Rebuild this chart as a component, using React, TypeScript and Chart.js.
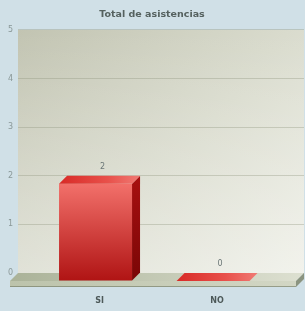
import { useEffect, useRef } from "react";
import { Chart, registerables } from "chart.js";

Chart.register(...registerables);

const TITLE = "Total de asistencias";
const categories = ["SI", "NO"];
const asistencias = [2, 0];
const yTickValues = [0, 1, 2, 3, 4, 5];

const DEPTH = 8;
const SLAB = 6;

const threeD = {
  id: "threeD",
  beforeDraw(chart: any) {
    const { ctx, chartArea: a, width, height } = chart;
    ctx.save();
    ctx.fillStyle = "#d0e0e7";
    ctx.fillRect(0, 0, width, height);
    const g = ctx.createLinearGradient(a.left, a.top, a.right, a.bottom);
    g.addColorStop(0, "#c2c4b2");
    g.addColorStop(0.55, "#d9dbcd");
    g.addColorStop(1, "#ecede4");
    ctx.fillStyle = g;
    ctx.fillRect(a.left, a.top, a.right - a.left, a.bottom - a.top);
    const v = ctx.createLinearGradient(0, a.top, 0, a.bottom);
    v.addColorStop(0, "rgba(255,255,255,0)");
    v.addColorStop(1, "rgba(255,255,255,0.3)");
    ctx.fillStyle = v;
    ctx.fillRect(a.left, a.top, a.right - a.left, a.bottom - a.top);
    ctx.restore();
  },
  beforeDatasetsDraw(chart: any) {
    const { ctx, chartArea: a } = chart;
    const y0 = chart.scales.y.getPixelForValue(0);
    const L = a.left, R = a.right, d = DEPTH;
    ctx.save();
    const gt = ctx.createLinearGradient(L - d, 0, R, 0);
    gt.addColorStop(0, "#aab298");
    gt.addColorStop(1, "#dde0d1");
    ctx.fillStyle = gt;
    ctx.beginPath();
    ctx.moveTo(L, y0);
    ctx.lineTo(R, y0);
    ctx.lineTo(R - d, y0 + d);
    ctx.lineTo(L - d, y0 + d);
    ctx.closePath();
    ctx.fill();
    const gf = ctx.createLinearGradient(L - d, 0, R, 0);
    gf.addColorStop(0, "#bcc3ab");
    gf.addColorStop(1, "#d3d7c5");
    ctx.fillStyle = gf;
    ctx.fillRect(L - d, y0 + d, R - L, SLAB);
    ctx.fillStyle = "rgba(110,118,96,0.6)";
    ctx.fillRect(L - d, y0 + d + SLAB - 1, R - L, 1);
    ctx.fillStyle = "#8b9480";
    ctx.beginPath();
    ctx.moveTo(R - d, y0 + d);
    ctx.lineTo(R, y0);
    ctx.lineTo(R, y0 + SLAB);
    ctx.lineTo(R - d, y0 + d + SLAB);
    ctx.closePath();
    ctx.fill();
    ctx.restore();
  },
  afterDatasetsDraw(chart: any) {
    const { ctx } = chart;
    const meta = chart.getDatasetMeta(0);
    const d = DEPTH;
    ctx.save();
    meta.data.forEach((el: any, i: number) => {
      const { x, y, base, width } = el.getProps(["x", "y", "base", "width"], true);
      const xl = x - width / 2, xr = x + width / 2;
      if (base - y > 0) {
        const gf = ctx.createLinearGradient(0, y + d, 0, base + d);
        gf.addColorStop(0, "#f2706a");
        gf.addColorStop(1, "#b01414");
        ctx.fillStyle = gf;
        ctx.fillRect(xl - d, y + d, width, base - y);
        const gs = ctx.createLinearGradient(0, y, 0, base + d);
        gs.addColorStop(0, "#a81010");
        gs.addColorStop(1, "#7a0606");
        ctx.fillStyle = gs;
        ctx.beginPath();
        ctx.moveTo(xr - d, y + d);
        ctx.lineTo(xr, y);
        ctx.lineTo(xr, base);
        ctx.lineTo(xr - d, base + d);
        ctx.closePath();
        ctx.fill();
      }
      const gt = ctx.createLinearGradient(xl - d, 0, xr, 0);
      gt.addColorStop(0, "#d82a26");
      gt.addColorStop(0.6, "#e8504a");
      gt.addColorStop(1, "#f07a74");
      ctx.fillStyle = gt;
      ctx.beginPath();
      ctx.moveTo(xl, y);
      ctx.lineTo(xr, y);
      ctx.lineTo(xr - d, y + d);
      ctx.lineTo(xl - d, y + d);
      ctx.closePath();
      ctx.fill();
      ctx.fillStyle = "#6b7777";
      ctx.font = "8px 'DejaVu Sans'";
      ctx.textAlign = "center";
      ctx.textBaseline = "alphabetic";
      ctx.fillText(String(asistencias[i]), x - 1, y - 7);
    });
    ctx.restore();
  },
};

export default function App() {
  const ref = useRef<HTMLCanvasElement | null>(null);
  useEffect(() => {
    if (!ref.current) return;
    const chart = new Chart(ref.current, {
      type: "bar",
      data: {
        labels: categories,
        datasets: [
          {
            label: TITLE,
            data: asistencias.map((v, i) => ({ x: i, y: v })) as any,
            backgroundColor: "rgba(0,0,0,0)",
            borderWidth: 0,
            barThickness: 73,
          },
        ],
      },
      options: {
        animation: false,
        responsive: true,
        maintainAspectRatio: false,
        layout: { padding: { left: 0, right: 1, top: 0, bottom: 0 } },
        plugins: {
          legend: { display: false },
          tooltip: { enabled: false },
          title: {
            display: true,
            text: TITLE,
            color: "#55615f",
            font: { family: "'DejaVu Sans'", size: 9.5, weight: "bold" },
            padding: { top: 9, bottom: 9.5 },
          },
        },
        scales: {
          x: {
            type: "linear",
            offset: false,
            min: -0.728,
            max: 1.706,
            grid: { display: false },
            border: { display: false },
            afterFit: (s: any) => {
              s.height = 38;
            },
            afterBuildTicks: (s: any) => {
              s.ticks = categories.map((_, i) => ({ value: i }));
            },
            ticks: {
              autoSkip: false,
              padding: 15,
              labelOffset: -4,
              color: "#4d5959",
              font: { family: "'DejaVu Sans'", size: 8, weight: "bold" },
              callback: (v: any) => categories[v] ?? "",
            },
          },
          y: {
            min: 0,
            max: 5,
            afterFit: (s: any) => {
              s.width = 18;
            },
            afterBuildTicks: (s: any) => {
              s.ticks = yTickValues.map((v) => ({ value: v }));
            },
            grid: { color: "rgba(140,146,122,0.35)", lineWidth: 1, drawTicks: false },
            border: { display: false },
            ticks: {
              padding: 5,
              color: "#8a9898",
              font: { family: "'DejaVu Sans'", size: 8 },
            },
          },
        },
      },
      plugins: [threeD],
    });
    return () => chart.destroy();
  }, []);
  return (
    <div style={{ position: "fixed", left: 0, top: 0, width: 305, height: 311 }}>
      <canvas ref={ref} />
    </div>
  );
}
